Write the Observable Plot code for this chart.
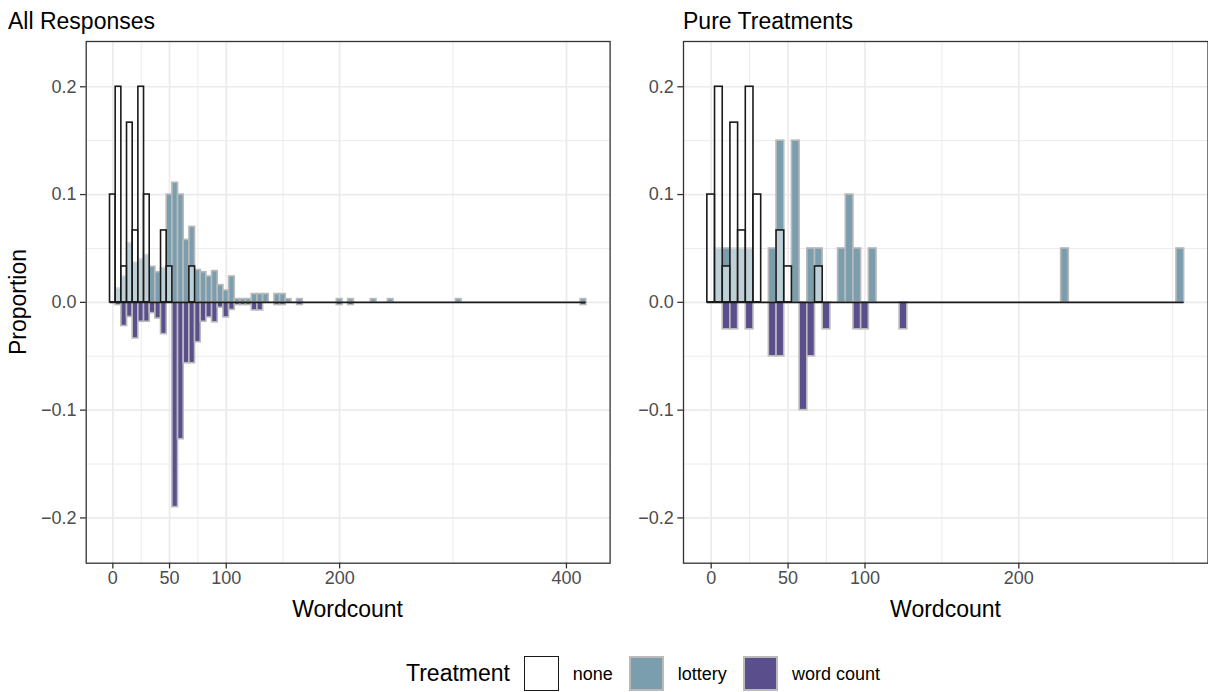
<!DOCTYPE html>
<html>
<head>
<meta charset="utf-8">
<script src="https://cdn.jsdelivr.net/npm/d3@7"></script>
<script src="https://cdn.jsdelivr.net/npm/@observablehq/plot@0.6"></script>
<style>
  body { margin: 0; background: #fff; }
  #root { position: relative; width: 1208px; height: 692px; overflow: hidden; background: #fff;
          font-family: "Liberation Sans", Arial, Helvetica, sans-serif; }
  .abs { position: absolute; white-space: nowrap; line-height: 1; }
  .title { font-size: 23px; color: #000; }
  .axtitle { font-size: 23px; color: #000; }
  .leglab { font-size: 18px; color: #000; }
  .sw { position: absolute; box-sizing: border-box; width: 35px; height: 35px; }
  svg { overflow: visible; }
</style>
</head>
<body>
<div id="root"></div>
<script>
// ---------------- DATA ----------------
// Bin centres (wordcount, binwidth 5) and proportions.
const noneBins = [0, 5, 10, 15, 20, 25, 30, 45, 50, 70];
const noneProp = [0.1, 0.2, 0.0333, 0.1667, 0.0667, 0.2, 0.1, 0.0667, 0.0333, 0.0333];

// "All Responses"
const allLotteryBins = [5, 10, 15, 20, 25, 30, 35, 40, 45, 50, 55, 60, 65, 70, 75, 80, 85, 90, 95, 100,
                        105, 110, 115, 120, 125, 130, 135, 145, 150, 155, 165, 200, 210, 230, 245, 305, 415];
const allLotteryProp = [0.013, 0.024, 0.055, 0.037, 0.04, 0.044, 0.033, 0.028, 0.032, 0.1, 0.111, 0.1, 0.058, 0.07, 0.03, 0.028, 0.024, 0.029, 0.016, 0.011,
                        0.024, 0.003, 0.003, 0.003, 0.0077, 0.0077, 0.0077, 0.0077, 0.0077, 0.003, 0.003, 0.003, 0.003, 0.003, 0.003, 0.003, 0.003];
const allWordBins = [5, 10, 15, 20, 25, 30, 35, 40, 45, 55, 60, 65, 70, 75, 80, 85, 90, 95, 100,
                     105, 110, 115, 120, 125, 130, 145, 150, 165, 200, 210, 415];
const allWordProp = [-0.0025, -0.022, -0.0135, -0.0335, -0.018, -0.018, -0.01, -0.015, -0.0295, -0.19, -0.127, -0.0565, -0.0565, -0.037, -0.018, -0.014, -0.0185, -0.005, -0.014,
                     -0.007, -0.0025, -0.0025, -0.0025, -0.0075, -0.0075, -0.0025, -0.0025, -0.0025, -0.0025, -0.0025, -0.0025];

// "Pure Treatments"
const pureLotteryBins = [5, 10, 15, 20, 25, 40, 45, 55, 65, 70, 85, 90, 95, 105, 230, 305];
const pureLotteryProp = [0.05, 0.05, 0.05, 0.05, 0.05, 0.05, 0.15, 0.15, 0.05, 0.05, 0.05, 0.1, 0.05, 0.05, 0.05, 0.05];
const pureWordBins = [10, 15, 25, 40, 45, 60, 65, 75, 95, 100, 125];
const pureWordProp = [-0.025, -0.025, -0.025, -0.05, -0.05, -0.1, -0.05, -0.025, -0.025, -0.025, -0.025];

// Axis ticks
const xTicksAll = [0, 50, 100, 200, 400];
const xMinorAll = [25, 75, 150, 300];
const xTicksPure = [0, 50, 100, 200];
const xMinorPure = [25, 75, 150, 300];
const yTicks = [-0.2, -0.1, 0, 0.1, 0.2];
const yMinor = [-0.15, -0.05, 0.05, 0.15];

const treatments = ["none", "lottery", "word count"];
const titles = ["All Responses", "Pure Treatments"];

// ---------------- STYLE ----------------
const FONT = '"Liberation Sans", Arial, Helvetica, sans-serif';
const LOTTERY = "#7b9eaf";
const WORD = "#5a4e8d";
const OUTLINE = "#bababa";
const INK = "#1a1a1a";
const BINW = 5;
const H = 610;
const PANEL_TOP = 41, PANEL_BOTTOM = 562.7;

function rows(bins, vals) { return bins.map((b, i) => ({b, p: vals[i]})); }

function panel(o) {
  const none = rows(noneBins, noneProp);
  const lot = rows(o.lotBins, o.lotProp);
  const word = rows(o.wordBins, o.wordProp);
  const maxBin = d3.max([...noneBins, ...o.lotBins, ...o.wordBins]);
  const minBin = d3.min([...noneBins, ...o.lotBins, ...o.wordBins]);
  const bar = {x1: d => d.b - BINW / 2, x2: d => d.b + BINW / 2, y: "p", inset: 0};
  return Plot.plot({
    width: o.width, height: H,
    marginLeft: o.mL, marginRight: o.mR, marginTop: PANEL_TOP, marginBottom: H - PANEL_BOTTOM,
    x: {domain: o.xDomain},
    y: {domain: [-0.242, 0.242]},
    style: {fontFamily: FONT, fontSize: "18px", color: "#4d4d4d", background: "transparent", overflow: "visible"},
    marks: [
      Plot.ruleX(o.xMinor, {stroke: "#ebebeb", strokeWidth: 1}),
      Plot.ruleY(yMinor, {stroke: "#ebebeb", strokeWidth: 1}),
      Plot.ruleX(o.xTicks, {stroke: "#ebebeb", strokeWidth: 1.7}),
      Plot.ruleY(yTicks, {stroke: "#ebebeb", strokeWidth: 1.7}),
      Plot.rectY(lot, {...bar, fill: LOTTERY, stroke: OUTLINE, strokeWidth: 1.6}),
      Plot.rectY(word, {...bar, fill: WORD, stroke: OUTLINE, strokeWidth: 1.6}),
      Plot.rectY(none, {...bar, fill: "white", fillOpacity: 0.5, stroke: INK, strokeWidth: 1.6}),
      Plot.ruleY([0], {x1: minBin - BINW / 2, x2: maxBin + BINW / 2, stroke: INK, strokeWidth: 1.6}),
      Plot.frame({stroke: "#333333", strokeWidth: 1.3}),
      Plot.axisX({ticks: o.xTicks, tickSize: 5.7, tickPadding: 2, stroke: "#333333", strokeWidth: 1.3,
                  fill: "#4d4d4d", label: null, tickFormat: d => String(d)}),
      Plot.axisY({ticks: yTicks, tickSize: 5.7, tickPadding: 4, stroke: "#333333", strokeWidth: 1.3,
                  fill: "#4d4d4d", label: null, tickFormat: d => d.toFixed(1).replace("-", "\u2212")})
    ]
  });
}

const root = document.getElementById("root");
function place(el, left, top) {
  const w = document.createElement("div");
  w.className = "abs"; w.style.left = left + "px"; w.style.top = top + "px";
  w.appendChild(el); root.appendChild(w); return w;
}
function text(str, cls, left, top, extra) {
  const d = document.createElement("div");
  d.className = "abs " + cls; d.textContent = str;
  d.style.left = left + "px"; d.style.top = top + "px";
  if (extra) Object.assign(d.style, extra);
  root.appendChild(d); return d;
}

// Left plot
const leftPlot = panel({
  lotBins: allLotteryBins, lotProp: allLotteryProp, wordBins: allWordBins, wordProp: allWordProp,
  xDomain: [-23.5, 438.5], xTicks: xTicksAll, xMinor: xMinorAll,
  width: 615, mL: 85.7, mR: 615 - 609.6
});
place(leftPlot, 0, 0);

// Right plot
const rightPlot = panel({
  lotBins: pureLotteryBins, lotProp: pureLotteryProp, wordBins: pureWordBins, wordProp: pureWordProp,
  xDomain: [-18, 323], xTicks: xTicksPure, xMinor: xMinorPure,
  width: 608, mL: 83, mR: 0.5
});
place(rightPlot, 600, 0);

// Titles
text(titles[0], "title", 8, 9.5);
text(titles[1], "title", 683, 9.5);

// Axis titles
text("Wordcount", "axtitle", 347.6, 598, {transform: "translateX(-50%)"});
text("Wordcount", "axtitle", 945.5, 598, {transform: "translateX(-50%)"});
text("Proportion", "axtitle", 18, 302, {transform: "translate(-50%,-50%) rotate(-90deg)"});

// Legend
text("Treatment", "axtitle", 406, 662);
const swatchLeft = [524, 628.7, 743.3];
const labelLeft = [572.7, 677.7, 792];
const swStyles = [
  {background: "#fff", border: "1.6px solid " + INK},
  {background: LOTTERY, border: "2.6px solid " + OUTLINE},
  {background: WORD, border: "2.6px solid " + OUTLINE}
];
treatments.forEach((t, i) => {
  const s = document.createElement("div");
  s.className = "sw";
  s.style.left = swatchLeft[i] + "px"; s.style.top = "656px";
  Object.assign(s.style, swStyles[i]);
  root.appendChild(s);
  text(t, "leglab", labelLeft[i], 665);
});
</script>
</body>
</html>
